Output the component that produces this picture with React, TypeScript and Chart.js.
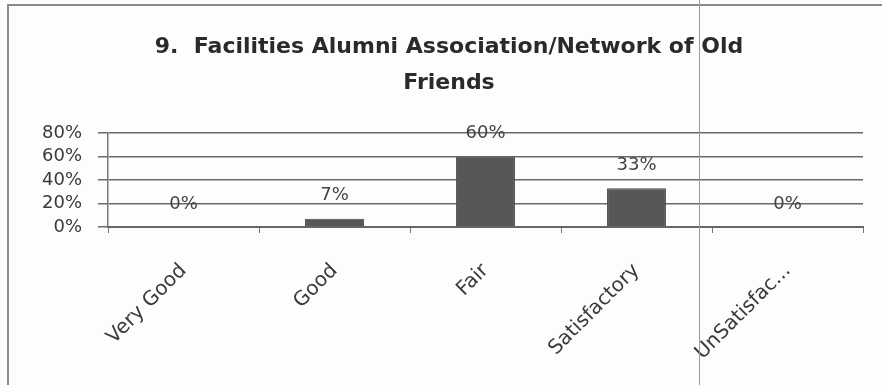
import React, { useEffect, useRef } from "react";
import { Chart, registerables } from "chart.js";

Chart.register(...registerables);

const categories = ["Very Good", "Good", "Fair", "Satisfactory", "UnSatisfac..."];
const values = [0, 7, 60, 33, 0];
const valueLabels = ["0%", "7%", "60%", "33%", "0%"];
const titleLines = ["9.  Facilities Alumni Association/Network of Old", "Friends"];

const FONT = "'DejaVu Sans', sans-serif";

const decorPlugin = {
  id: "decor",
  beforeDraw(chart: any) {
    const ctx = chart.ctx;
    ctx.save();
    ctx.fillStyle = "#fdfdfd";
    ctx.fillRect(0, 0, chart.width, chart.height);
    ctx.restore();
  },
  afterDraw(chart: any) {
    const ctx = chart.ctx;
    ctx.save();
    ctx.strokeStyle = "#8a8a8a";
    ctx.lineWidth = 2;
    ctx.beginPath();
    ctx.moveTo(8, chart.height);
    ctx.lineTo(8, 5);
    ctx.lineTo(chart.width, 5);
    ctx.stroke();
    ctx.strokeStyle = "#9a9a9a";
    ctx.lineWidth = 1;
    ctx.beginPath();
    ctx.moveTo(699.5, 0);
    ctx.lineTo(699.5, chart.height);
    ctx.stroke();
    ctx.restore();
  },
};

const labelPlugin = {
  id: "valueLabels",
  afterDatasetsDraw(chart: any) {
    const ctx = chart.ctx;
    const meta = chart.getDatasetMeta(0);
    ctx.save();
    ctx.font = `18px ${FONT}`;
    ctx.fillStyle = "#444";
    ctx.textAlign = "center";
    ctx.textBaseline = "middle";
    meta.data.forEach((bar: any, i: number) => {
      ctx.fillText(valueLabels[i], bar.x, bar.y - 23);
    });
    ctx.restore();
  },
};

export default function App() {
  const ref = useRef<HTMLCanvasElement | null>(null);
  useEffect(() => {
    if (!ref.current) return;
    const chart = new Chart(ref.current, {
      type: "bar",
      data: {
        labels: categories,
        datasets: [
          {
            data: values,
            backgroundColor: "#575757",
            borderColor: "#454545",
            borderWidth: 1,
            categoryPercentage: 1,
            barPercentage: 0.39,
          },
        ],
      },
      options: {
        responsive: false,
        animation: false,
        layout: { padding: { left: 35, right: 19, top: 0, bottom: 0 } },
        plugins: {
          legend: { display: false },
          tooltip: { enabled: false },
          title: {
            display: true,
            text: titleLines,
            color: "#2a2a2a",
            font: { family: FONT, size: 22, weight: "bold", lineHeight: 1.636 },
            padding: { top: 29, bottom: 32 },
          },
        },
        scales: {
          x: {
            grid: {
              offset: true,
              drawOnChartArea: false,
              tickLength: 6,
              color: "#777",
            },
            border: { color: "#666", width: 2 },
            ticks: {
              minRotation: 45,
              maxRotation: 45,
              autoSkip: false,
              padding: 26,
              color: "#3a3a3a",
              font: { family: FONT, size: 20 },
            },
            afterFit(scale: any) {
              scale.height = 158;
            },
          },
          y: {
            min: 0,
            max: 80,
            ticks: {
              stepSize: 20,
              autoSkip: false,
              padding: 16,
              color: "#3a3a3a",
              font: { family: FONT, size: 18 },
              callback: (v: any) => v + "%",
            },
            grid: { color: "#6a6a6a", lineWidth: 1.5, tickLength: 10 },
            border: { color: "#777", width: 1.5 },
            afterFit(scale: any) {
              scale.width = 73;
            },
          },
        },
      },
      plugins: [decorPlugin, labelPlugin],
    });
    return () => chart.destroy();
  }, []);
  return (
    <div style={{ position: "absolute", left: 0, top: 0, width: 882, height: 385 }}>
      <canvas ref={ref} width={882} height={385} style={{ display: "block" }} />
    </div>
  );
}
